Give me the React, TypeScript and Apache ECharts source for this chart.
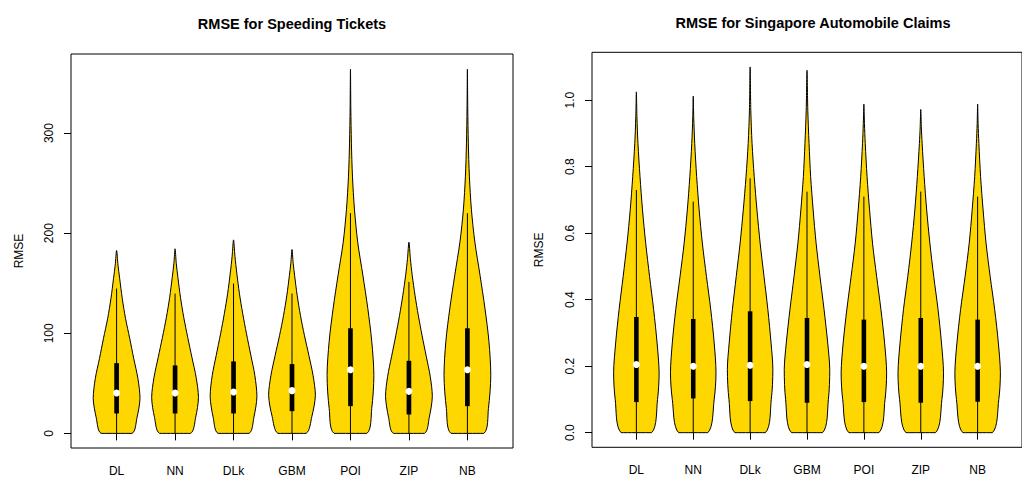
import React, { useEffect, useRef } from "react";
import * as echarts from "echarts";

// ---------- data ----------
const categories = ["DL", "NN", "DLk", "GBM", "POI", "ZIP", "NB"];
const positions = [1, 2, 3, 4, 5, 6, 7];

const speedTicks = [0, 100, 200, 300];
const claimTicks = [0, 0.2, 0.4, 0.6, 0.8, 1.0];

// RMSE for Speeding Tickets
const speedQ1 = [19.9, 19.9, 19.9, 22.2, 27.2, 18.9, 27.2];
const speedMedian = [40.4, 40.4, 41.4, 42.7, 63.6, 42.0, 63.6];
const speedQ3 = [70.2, 67.9, 71.9, 69.2, 105.0, 72.5, 105.0];
const speedUpper = [144.7, 139.7, 149.7, 139.7, 220.0, 151.3, 220.0];
// density profile: [value, relative half-width]
const speedProfiles: number[][][] = [
  [[0, 0.66], [15.6, 0.87], [35, 1.0], [55, 0.91], [75, 0.73], [95, 0.56], [115, 0.38], [135, 0.24], [155, 0.13], [168, 0.06], [182.7, 0]],
  [[0, 0.66], [16, 0.88], [36, 1.0], [56, 0.9], [76, 0.72], [96, 0.54], [116, 0.37], [136, 0.23], [156, 0.12], [170, 0.05], [184.4, 0]],
  [[0, 0.66], [16, 0.87], [37, 1.0], [58, 0.91], [78, 0.74], [100, 0.55], [120, 0.39], [140, 0.25], [160, 0.14], [177, 0.06], [193.3, 0]],
  [[0, 0.6], [17, 0.85], [38, 1.0], [58, 0.9], [78, 0.72], [98, 0.53], [118, 0.36], [138, 0.22], [158, 0.11], [170, 0.05], [183.7, 0]],
  [[0, 0.7], [25, 0.91], [58, 1.0], [92, 0.91], [125, 0.74], [158, 0.53], [191, 0.31], [224, 0.17], [257, 0.085], [290, 0.04], [325, 0.015], [363.8, 0]],
  [[0, 0.66], [16, 0.87], [37, 1.0], [57, 0.91], [77, 0.74], [98, 0.56], [118, 0.4], [138, 0.26], [158, 0.14], [175, 0.06], [191, 0]],
  [[0, 0.7], [25, 0.9], [58, 1.0], [92, 0.92], [125, 0.75], [158, 0.54], [191, 0.32], [224, 0.17], [257, 0.085], [290, 0.04], [325, 0.015], [363.8, 0]],
];

// RMSE for Singapore Automobile Claims
const claimQ1 = [0.092, 0.103, 0.095, 0.09, 0.092, 0.09, 0.093];
const claimMedian = [0.205, 0.2, 0.203, 0.205, 0.2, 0.2, 0.2];
const claimQ3 = [0.348, 0.342, 0.365, 0.345, 0.34, 0.345, 0.34];
const claimUpper = [0.73, 0.695, 0.765, 0.725, 0.71, 0.725, 0.71];
const claimProfiles: number[][][] = [
  [[0, 0.67], [0.1, 0.93], [0.18, 1.0], [0.27, 0.91], [0.37, 0.76], [0.47, 0.58], [0.57, 0.41], [0.67, 0.27], [0.77, 0.16], [0.87, 0.07], [0.95, 0.025], [1.025, 0]],
  [[0, 0.64], [0.1, 0.92], [0.18, 1.0], [0.27, 0.92], [0.37, 0.77], [0.47, 0.58], [0.57, 0.4], [0.67, 0.26], [0.77, 0.15], [0.87, 0.065], [0.95, 0.02], [1.012, 0]],
  [[0, 0.67], [0.1, 0.93], [0.19, 1.0], [0.27, 0.92], [0.37, 0.78], [0.47, 0.61], [0.57, 0.44], [0.67, 0.3], [0.77, 0.18], [0.87, 0.085], [0.97, 0.03], [1.1, 0]],
  [[0, 0.68], [0.1, 0.94], [0.19, 1.0], [0.27, 0.91], [0.37, 0.75], [0.47, 0.57], [0.57, 0.4], [0.67, 0.27], [0.77, 0.16], [0.87, 0.09], [0.97, 0.035], [1.09, 0]],
  [[0, 0.66], [0.1, 0.93], [0.18, 1.0], [0.27, 0.91], [0.37, 0.75], [0.47, 0.56], [0.57, 0.38], [0.67, 0.25], [0.77, 0.14], [0.87, 0.06], [0.93, 0.025], [0.988, 0]],
  [[0, 0.65], [0.1, 0.93], [0.18, 1.0], [0.27, 0.91], [0.37, 0.76], [0.47, 0.57], [0.57, 0.4], [0.67, 0.26], [0.77, 0.15], [0.87, 0.06], [0.92, 0.025], [0.972, 0]],
  [[0, 0.65], [0.1, 0.93], [0.18, 1.0], [0.27, 0.91], [0.37, 0.75], [0.47, 0.55], [0.57, 0.37], [0.67, 0.24], [0.77, 0.13], [0.87, 0.055], [0.93, 0.02], [0.988, 0]],
];

// ---------- styling ----------
const FONT = "'Liberation Sans', Arial, Helvetica, sans-serif";
const GOLD = "#FFD700";

function violinRenderer(q1: number[], med: number[], q3: number[], upper: number[], profiles: number[][][]) {
  return (params: any, api: any) => {
    const i = params.dataIndex;
    const pos = api.value(0);
    const unit = api.size([1, 0])[0];
    const halfMax = 0.4 * unit;
    const prof = profiles[i];
    const right = prof.map(([v, w]) => {
      const c = api.coord([pos, v]);
      return [c[0] + w * halfMax, c[1]];
    });
    const left = prof
      .slice(0, -1)
      .reverse()
      .map(([v, w]) => {
        const c = api.coord([pos, v]);
        return [c[0] - w * halfMax, c[1]];
      });
    const pts = right.concat(left);
    const base = api.coord([pos, prof[0][0]]);
    const top = api.coord([pos, upper[i]]);
    const b1 = api.coord([pos, q1[i]]);
    const b3 = api.coord([pos, q3[i]]);
    const m = api.coord([pos, med[i]]);
    const bw = 0.08 * unit;
    return {
      type: "group",
      children: [
        {
          type: "polygon",
          shape: { points: pts, smooth: 0.3, smoothConstraint: [pts[0], pts[0]] },
          style: { fill: GOLD, stroke: "#000", lineWidth: 1 },
        },
        {
          type: "line",
          shape: { x1: base[0], y1: base[1], x2: top[0], y2: top[1] },
          style: { stroke: "#000", lineWidth: 1 },
        },
        {
          type: "rect",
          shape: { x: b3[0] - bw / 2, y: b3[1], width: bw, height: b1[1] - b3[1] },
          style: { fill: "#000" },
        },
        {
          type: "circle",
          shape: { cx: m[0], cy: m[1], r: 3.5 },
          style: { fill: "#fff" },
        },
      ],
    };
  };
}

function xAxisFor(gridIndex: number) {
  return {
    type: "value",
    gridIndex,
    min: 0.22,
    max: 7.78,
    axisLine: { show: false },
    splitLine: { show: false },
    axisTick: { show: true, customValues: positions, length: 7, lineStyle: { color: "#000", width: 1 } },
    axisLabel: {
      customValues: positions,
      formatter: (v: number) => categories[Math.round(v) - 1] ?? "",
      color: "#000",
      fontSize: 12,
      fontFamily: FONT,
      margin: 17,
    },
  };
}

function yAxisFor(gridIndex: number, min: number, max: number, ticks: number[], fmt: (v: number) => string, nameGap: number) {
  return {
    type: "value",
    gridIndex,
    min,
    max,
    name: "RMSE",
    nameLocation: "middle",
    nameRotate: 90,
    nameGap,
    nameTextStyle: { color: "#000", fontSize: 12, fontFamily: FONT },
    axisLine: { show: false },
    splitLine: { show: false },
    axisTick: { show: true, customValues: ticks, length: 7, lineStyle: { color: "#000", width: 1 } },
    axisLabel: {
      customValues: ticks,
      formatter: fmt,
      rotate: 90,
      color: "#000",
      fontSize: 12,
      fontFamily: FONT,
      margin: 16,
    },
  };
}

export default function App() {
  const ref = useRef<HTMLDivElement>(null);
  useEffect(() => {
    if (!ref.current) return;
    const chart = echarts.init(ref.current, undefined, { renderer: "svg" });
    const option: any = {
      animation: false,
      backgroundColor: "#fff",
      grid: [
        { left: 71, top: 54, width: 442, height: 396, show: true, borderColor: "#000", borderWidth: 1, backgroundColor: "transparent" },
        { left: 592, top: 52.3, width: 442, height: 395, show: true, borderColor: "#000", borderWidth: 1, backgroundColor: "transparent" },
      ],
      xAxis: [xAxisFor(0), xAxisFor(1)],
      yAxis: [
        yAxisFor(0, -14.6, 379, speedTicks, (v: number) => String(Math.round(v)), 46),
        yAxisFor(1, -0.044, 1.144, claimTicks, (v: number) => v.toFixed(1), 47),
      ],
      graphic: [
        {
          type: "text",
          x: 292,
          y: 24,
          style: {
            text: "RMSE for Speeding Tickets",
            font: `bold 14.5px ${FONT}`,
            fill: "#000",
            align: "center",
            verticalAlign: "middle",
            textAlign: "center",
            textVerticalAlign: "middle",
          },
        },
        {
          type: "text",
          x: 813,
          y: 22.5,
          style: {
            text: "RMSE for Singapore Automobile Claims",
            font: `bold 14.5px ${FONT}`,
            fill: "#000",
            align: "center",
            verticalAlign: "middle",
            textAlign: "center",
            textVerticalAlign: "middle",
          },
        },
      ],
      series: [
        {
          type: "custom",
          xAxisIndex: 0,
          yAxisIndex: 0,
          encode: { x: 0, y: 1 },
          data: positions.map((p, i) => [p, speedUpper[i]]),
          renderItem: violinRenderer(speedQ1, speedMedian, speedQ3, speedUpper, speedProfiles),
          clip: false,
        },
        {
          type: "custom",
          xAxisIndex: 1,
          yAxisIndex: 1,
          encode: { x: 0, y: 1 },
          data: positions.map((p, i) => [p, claimUpper[i]]),
          renderItem: violinRenderer(claimQ1, claimMedian, claimQ3, claimUpper, claimProfiles),
          clip: false,
        },
      ],
    };
    chart.setOption(option);
    return () => chart.dispose();
  }, []);
  return (
    <div
      style={{
        position: "fixed",
        left: 0,
        top: 0,
        width: 1022,
        height: 477,
        overflow: "hidden",
        background: "#fff",
      }}
    >
      <div ref={ref} style={{ width: 1022, height: 477 }} />
    </div>
  );
}
